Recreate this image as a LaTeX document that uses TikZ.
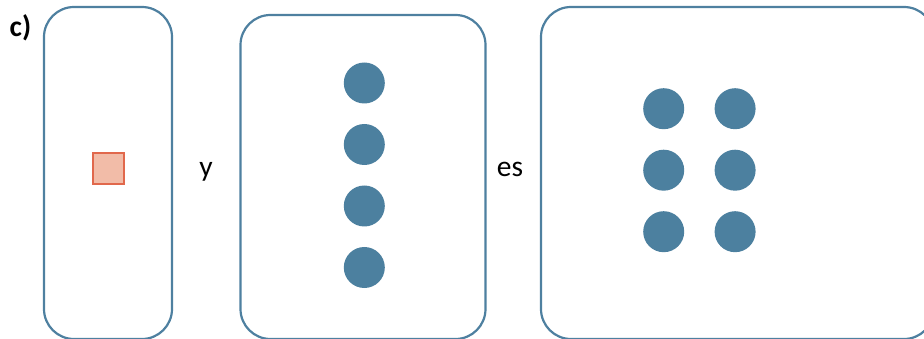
\documentclass[tikz,border=0pt]{standalone}
\usepackage{fontspec}
\setmainfont{Carlito}
\usetikzlibrary{positioning}
\definecolor{boxblue}{RGB}{78,128,160}
\definecolor{dotblue}{RGB}{76,128,159}
\definecolor{sqfill}{RGB}{242,188,168}
\definecolor{sqdraw}{RGB}{225,104,76}
\tikzset{%
        x=1pt,
        y=-1pt,
        node distance=61.5pt
}
\tikzset{
    frame/.style = {
        draw = boxblue,
        line width = 2.2pt,
        rounded corners = 30pt,
        fill = white,
        inner sep = 0pt
    },
    counter/.style = {
        circle,
        fill = dotblue,
        inner sep = 0pt,
        minimum width = 40pt,
        minimum height = 41pt
    },
    unit/.style = {
        draw = sqdraw,
        fill = sqfill,
        line width = 2.2pt,
        inner sep = 0pt,
        minimum size = 31pt
    },
    word/.style = {
        anchor = base,
        inner sep = 0pt,
        font = \fontsize{29.5}{34}\selectfont
    }
}

\begin{document}
\begin{tikzpicture}
        \useasboundingbox (0,0) rectangle (924,339);
        \clip (0,0) rectangle (924,339);
        % the three boxes
        \node[frame, minimum width=128pt, minimum height=332pt] (left) at (108,173) {};
        \node[frame, minimum width=245pt, minimum height=324pt] (middle) at (363,177) {};
        \node[frame, minimum width=393pt, minimum height=332pt] (right) at (737.5,173) {};
        % contents
        \node[unit] (sq) at (108.5,168.5) {};
        \node[counter] (m1) at (364.3,83) {};
        \node[counter] (m2) [below of=m1] {};
        \node[counter] (m3) [below of=m2] {};
        \node[counter] (m4) [below of=m3] {};
        \node[counter] (r1) at (663.7,108.7) {};
        \node[counter] (r2) [below of=r1] {};
        \node[counter] (r3) [below of=r2] {};
        \node[counter] (r4) [right=30pt of r1] {};
        \node[counter] (r5) [below of=r4] {};
        \node[counter] (r6) [below of=r5] {};
        % texts
        \node[word, font=\fontsize{29.5}{34}\selectfont\bfseries] (label) at (20.5,36.5) {c)};
        \node[word] (and) at (206,176.5) {y};
        \node[word] (is) at (510,176.5) {es};
\end{tikzpicture}
\end{document}
